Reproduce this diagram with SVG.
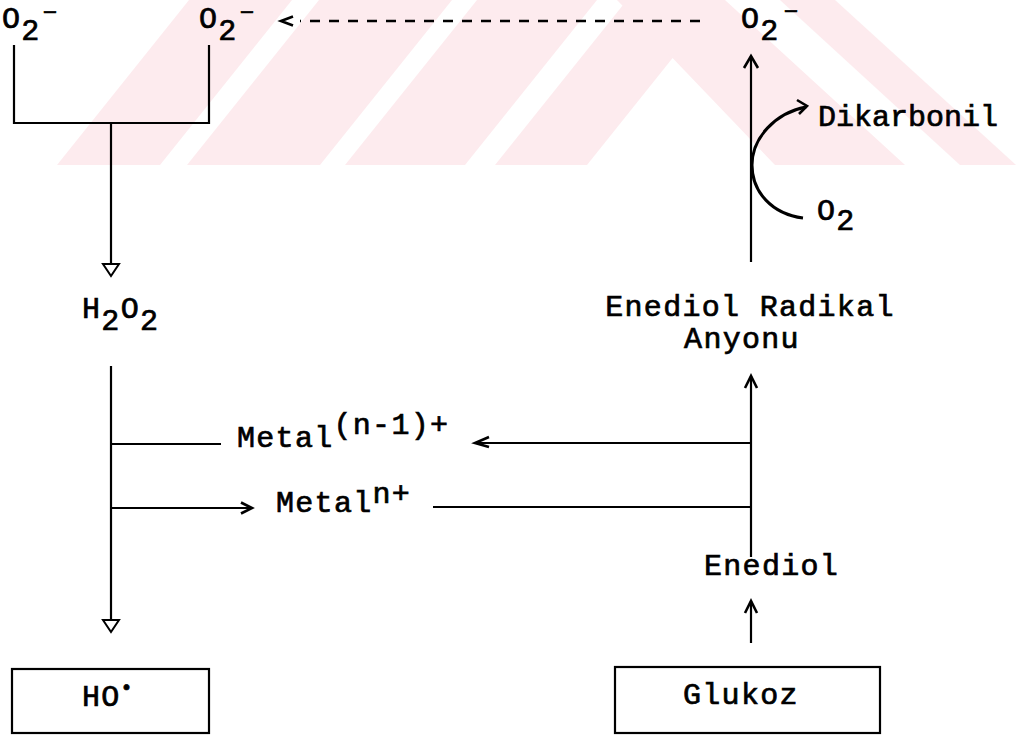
<svg xmlns="http://www.w3.org/2000/svg" width="1016" height="735" viewBox="0 0 1016 735">
<style>
.bg{fill:#fff}
.wm{fill:#fdebee}
.t{font-family:"Liberation Mono","DejaVu Sans Mono",monospace;font-size:30px;letter-spacing:1.3px;font-weight:normal;fill:#000;stroke:#000;stroke-width:0.7px}
.sm{font-size:24px}
.ln{stroke:#000;stroke-width:2.2;fill:none}
.dash{stroke:#000;stroke-width:2.4;fill:none;stroke-dasharray:10 9}
.chev{stroke:#000;stroke-width:2.6;fill:none;stroke-linejoin:miter}
.tri{stroke:#000;stroke-width:2;fill:#fff}
.box{stroke:#000;stroke-width:2.2;fill:none}
.curve{stroke:#000;stroke-width:3;fill:none}
</style>
<rect class="bg" x="0" y="0" width="1016" height="735"/>
<g id="watermark">
<polygon class="wm" points="57,165 160,165 292,0 189,0"/>
<polygon class="wm" points="187,165 320,165 452,0 319,0"/>
<polygon class="wm" points="345,165 465,165 597,0 477,0"/>
<polygon class="wm" points="495,165 587,165 719,0 627,0"/>
<polygon class="wm" points="617,0 725,0 905,165 775,165"/>
<polygon class="wm" points="780,0 835,0 1016,165 960,165"/>
</g>
<g id="connectors">
<path class="dash" d="M700,21 L300,21"/>
<path class="chev" d="M293,16.5 L281,21 L293,25.5"/>
<path class="ln" d="M14,45 L14,123 L209,123 L209,45"/>
<path class="ln" d="M111,123 L111,264"/>
<path class="tri" d="M103,264 L119,264 L111,276 Z"/>
<path class="ln" d="M111,366 L111,620"/>
<path class="tri" d="M103,620 L119,620 L111,632 Z"/>
<path class="ln" d="M111,444 L221,444"/>
<path class="ln" d="M111,508 L252,508"/>
<path class="chev" d="M241,502.5 L252,508 L241,513.5"/>
<path class="ln" d="M751,443 L475,443"/>
<path class="chev" d="M489,437 L475,443 L489,447"/>
<path class="ln" d="M433,507 L751,507"/>
<path class="ln" d="M751,557 L751,376"/>
<path class="chev" d="M745,388 L751,376 L757,388"/>
<path class="ln" d="M751,643 L751,601"/>
<path class="chev" d="M745,613 L751,601 L757,613"/>
<path class="ln" d="M751,262 L751,56"/>
<path class="chev" d="M744,68 L751,56 L758,68"/>
<path class="curve" d="M803,218 C772,214 752,192 752,165 C752,138 775,113 806,107"/>
<path class="chev" d="M797,100 L807,106 L799,114"/>
</g>
<g id="node-o2-left"><text class="t" x="2" y="28">O<tspan dy="12">2</tspan><tspan class="sm" dx="2" dy="-20">−</tspan></text></g>
<g id="node-o2-mid"><text class="t" x="199" y="28">O<tspan dy="12">2</tspan><tspan class="sm" dx="2" dy="-20">−</tspan></text></g>
<g id="node-o2-right"><text class="t" x="741" y="28">O<tspan dy="12">2</tspan><tspan class="sm" dx="4" dy="-21">−</tspan></text></g>
<g id="node-dikarbonil"><text class="t" x="818" y="126" style="letter-spacing:0">Dikarbonil</text></g>
<g id="node-o2"><text class="t" x="817" y="220">O<tspan dy="10">2</tspan></text></g>
<g id="node-h2o2"><text class="t" x="82" y="318">H<tspan dy="12">2</tspan><tspan dy="-12">O</tspan><tspan dy="12">2</tspan></text></g>
<g id="node-radikal"><text class="t" x="750" y="316" text-anchor="middle">Enediol Radikal</text><text class="t" x="742" y="348" text-anchor="middle">Anyonu</text></g>
<g id="node-metal-n1"><text class="t" x="237" y="447">Metal<tspan dy="-13">(n-1)+</tspan></text></g>
<g id="node-metal-n"><text class="t" x="276" y="512">Metal<tspan dy="-9">n+</tspan></text></g>
<g id="node-enediol"><text class="t" x="704" y="575">Enediol</text></g>
<g id="node-glukoz"><rect class="box" x="615" y="667" width="265" height="66"/><text class="t" x="683" y="704">Glukoz</text></g>
<g id="node-ho"><rect class="box" x="12" y="669" width="197" height="64"/><text class="t" x="82" y="706">HO<tspan font-size="20" dy="-12">•</tspan></text></g>
</svg>
